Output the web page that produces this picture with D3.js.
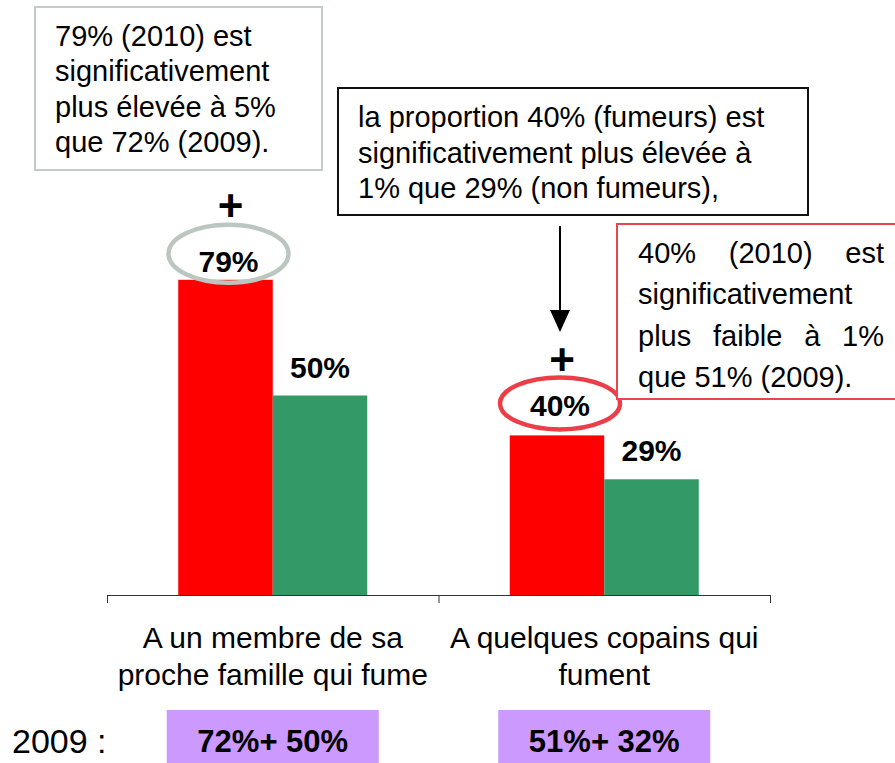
<!DOCTYPE html>
<html>
<head>
<meta charset="utf-8">
<script src="https://cdn.jsdelivr.net/npm/d3@7"></script>
<style>
  body { margin: 0; background: #fff; }
  svg { display: block; }
  text { font-family: "Liberation Sans", Arial, Helvetica, sans-serif; fill: #000; }
</style>
</head>
<body>
<svg id="chart"></svg>
<script>
// données
const categories   = ["membre famille", "copains"];
const catLines     = [["A un membre de sa", "proche famille qui fume"],
                      ["A quelques copains qui", "fument"]];
const series       = ["fumeurs", "non fumeurs"];
const fumeurs      = [79, 40];
const nonFumeurs   = [50, 29];
const rappel2009   = ["72%+ 50%", "51%+ 32%"];

const note1 = ["79% (2010) est", "significativement", "plus élevée à 5%", "que 72% (2009)."];
const note2 = ["la proportion 40% (fumeurs) est", "significativement plus élevée à", "1% que 29% (non fumeurs),"];
const note3 = [["40%", "(2010)", "est"], ["significativement"], ["plus", "faible", "à", "1%"], ["que 51% (2009)."]];

const W = 895, H = 763;
const RED = "#ff0000", GREEN = "#339966";

const svg = d3.select("#chart").attr("width", W).attr("height", H);

// escalas
const x0 = d3.scaleBand().domain(categories).range([107, 770]);
const x1 = d3.scaleBand().domain(series).range([0, x0.bandwidth()]).paddingOuter(0.754);
const y  = d3.scaleLinear().domain([0, 100]).range([595, 196]);
const color = d3.scaleOrdinal().domain(series).range([RED, GREEN]);

const dados = categories.map((c, i) => ({
  cat: c,
  vals: [{s: "fumeurs", v: fumeurs[i]}, {s: "non fumeurs", v: nonFumeurs[i]}]
}));

// barras
const grupos = svg.selectAll("g.grupo")
  .data(dados)
  .enter().append("g")
  .attr("class", "grupo")
  .attr("transform", d => `translate(${x0(d.cat)},0)`);

grupos.selectAll("rect")
  .data(d => d.vals)
  .enter().append("rect")
  .attr("x", d => x1(d.s))
  .attr("y", d => y(d.v))
  .attr("width", x1.bandwidth())
  .attr("height", d => y(0) - y(d.v))
  .attr("fill", d => color(d.s));

// eixo (ticks nas fronteiras das categorias)
const xb = d3.scaleLinear().domain([0, categories.length]).range(x0.range());
const eixo = svg.append("g")
  .attr("transform", `translate(0,${y(0)})`)
  .call(d3.axisBottom(xb).tickValues(d3.range(categories.length + 1)).tickFormat("").tickSize(8).tickSizeOuter(0));
eixo.select(".domain").attr("stroke", "#333");
eixo.selectAll(".tick line").attr("stroke", "#333");

// rótulos das categorias
categories.forEach((c, i) => {
  const cx = x0(c) + x0.bandwidth() / 2;
  const t = svg.append("text")
    .attr("text-anchor", "middle")
    .style("font-size", "30px");
  catLines[i].forEach((l, j) => {
    t.append("tspan").attr("x", cx).attr("y", 648 + j * 37).text(l);
  });
});

// destaques (elipses + sinal "+") nos valores de fumeurs
const destaques = [
  {cat: 0, stroke: "#bcc6c0", dy: -26, ry: 29, labelDy: 18, plusGap: 20},
  {cat: 1, stroke: "#ec3e48", dy: -32, ry: 26, labelDy: 13, plusGap: 18}
];

destaques.forEach(h => {
  const c = categories[h.cat];
  const v = fumeurs[h.cat];
  const cx = x0(c) + x1("fumeurs") + x1.bandwidth() / 2 + 3;
  const cy = y(v) + h.dy;
  svg.append("ellipse")
    .attr("cx", cx).attr("cy", cy)
    .attr("rx", 60).attr("ry", h.ry)
    .attr("fill", "none")
    .attr("stroke", h.stroke)
    .attr("stroke-width", 4.5);
  svg.append("text")
    .attr("x", cx).attr("y", cy + h.labelDy)
    .attr("text-anchor", "middle")
    .style("font-size", "30px").style("font-weight", "bold")
    .text(v + "%");
  svg.append("text")
    .attr("x", cx + 2).attr("y", cy - h.ry - h.plusGap + 16)
    .attr("text-anchor", "middle")
    .style("font-size", "44px").style("font-weight", "bold")
    .text("+");
});

// rótulos dos não fumeurs
categories.forEach((c, i) => {
  svg.append("text")
    .attr("x", x0(c) + x1("non fumeurs") + x1.bandwidth() / 2)
    .attr("y", y(nonFumeurs[i]) - 18)
    .attr("text-anchor", "middle")
    .style("font-size", "30px").style("font-weight", "bold")
    .text(nonFumeurs[i] + "%");
});

// caixa 1 (cinza)
svg.append("rect").attr("x", 35).attr("y", 7).attr("width", 287).attr("height", 163)
  .attr("fill", "#fff").attr("stroke", "#c3cbc6").attr("stroke-width", 2);
note1.forEach((l, j) => {
  svg.append("text").attr("x", 55).attr("y", 46 + j * 35.3)
    .style("font-size", "29px").text(l);
});

// caixa 2 (preta) + seta
svg.append("rect").attr("x", 338).attr("y", 88).attr("width", 470).attr("height", 127)
  .attr("fill", "#fff").attr("stroke", "#111").attr("stroke-width", 2);
note2.forEach((l, j) => {
  svg.append("text").attr("x", 358).attr("y", 127 + j * 35.5)
    .style("font-size", "29px").text(l);
});

const ax = x0(categories[1]) + x1("fumeurs") + x1.bandwidth() / 2 + 3;
svg.append("line").attr("x1", ax).attr("x2", ax).attr("y1", 226).attr("y2", 312)
  .attr("stroke", "#000").attr("stroke-width", 2);
svg.append("path")
  .attr("d", `M${ax - 10},310 L${ax + 10},310 L${ax},332 Z`)
  .attr("fill", "#000");

// caixa 3 (vermelha, texto justificado)
svg.append("rect").attr("x", 617).attr("y", 224).attr("width", 290).attr("height", 175)
  .attr("fill", "#fff").attr("stroke", "#e8454f").attr("stroke-width", 2);

const justX0 = 638, justX1 = 884;
note3.forEach((words, j) => {
  const yb = 263 + j * 41.3;
  const ts = words.map(w => svg.append("text").attr("y", yb).style("font-size", "29px").text(w));
  const larg = ts.map(t => t.node().getComputedTextLength());
  const justify = words.length > 1;
  const gap = justify ? (justX1 - justX0 - d3.sum(larg)) / (words.length - 1) : 0;
  let xx = justX0;
  ts.forEach((t, k) => { t.attr("x", xx); xx += larg[k] + gap; });
});

// 2009
svg.append("text").attr("x", 12).attr("y", 753)
  .style("font-size", "34px").text("2009 :");

categories.forEach((c, i) => {
  const cx = x0(c) + x0.bandwidth() / 2;
  svg.append("rect")
    .attr("x", cx - 106).attr("y", 710)
    .attr("width", 212).attr("height", 60)
    .attr("fill", "#cc99ff");
  svg.append("text")
    .attr("x", cx).attr("y", 752)
    .attr("text-anchor", "middle")
    .style("font-size", "31px").style("font-weight", "bold")
    .text(rappel2009[i]);
});
</script>
</body>
</html>
